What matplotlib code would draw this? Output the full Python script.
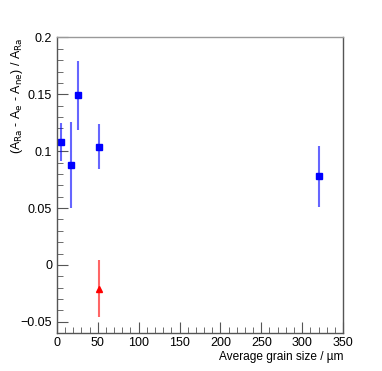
import matplotlib
matplotlib.use("Agg")
import matplotlib.pyplot as plt
from matplotlib.ticker import MultipleLocator

plt.rcParams["font.family"] = ["Liberation Sans", "DejaVu Sans"]

# blue series (squares)
grain_blue = [5, 17.5, 26, 51, 320]
asym_blue = [0.108, 0.088, 0.149, 0.104, 0.078]
err_blue = [0.017, 0.038, 0.030, 0.020, 0.027]

# red series (triangle)
grain_red = [51]
asym_red = [-0.021]
err_red = [0.025]

fig = plt.figure(figsize=(3.82, 3.71), dpi=100)
ax = fig.add_axes([0.149, 0.102, 0.749, 0.797])

ax.errorbar(grain_blue, asym_blue, yerr=err_blue, fmt="none",
            ecolor=(0, 0, 1, 0.6), elinewidth=1.5, capsize=0)
ax.plot(grain_blue, asym_blue, "s", color="blue", ms=4.5, mec="blue")
ax.errorbar(grain_red, asym_red, yerr=err_red, fmt="none",
            ecolor=(1, 0, 0, 0.6), elinewidth=1.5, capsize=0)
ax.plot(grain_red, asym_red, "^", color="red", ms=4.5, mec="red")

ax.set_xlim(0, 350)
ax.set_ylim(-0.06, 0.2)
ax.xaxis.set_major_locator(MultipleLocator(50))
ax.xaxis.set_minor_locator(MultipleLocator(10))
ax.yaxis.set_major_locator(MultipleLocator(0.05))
ax.yaxis.set_minor_locator(MultipleLocator(0.01))
ax.set_yticks([-0.05, 0, 0.05, 0.1, 0.15, 0.2])
ax.set_yticklabels(["\u22120.05", "0", "0.05", "0.1", "0.15", "0.2"])

ax.tick_params(which="both", direction="in", top=False, right=False,
               labelsize=9, color="#555555")
ax.tick_params(which="major", length=8)
ax.tick_params(which="minor", length=4)
ax.tick_params(axis="x", pad=3)
for s in ax.spines.values():
    s.set_color("#555555")
    s.set_linewidth(1)
ax.spines["top"].set_color("#999999")

ax.set_xlabel("Average grain size / \u00b5m", loc="right", fontsize=8.6, labelpad=1)
ax.set_ylabel(r"(A$_{\mathrm{Ra}}$ - A$_{\mathrm{e}}$ - A$_{\mathrm{ne}}$) / A$_{\mathrm{Ra}}$",
              loc="top", fontsize=9)
ax.yaxis.set_label_coords(-0.112, 1.0)

fig.savefig("out.png", dpi=100)
